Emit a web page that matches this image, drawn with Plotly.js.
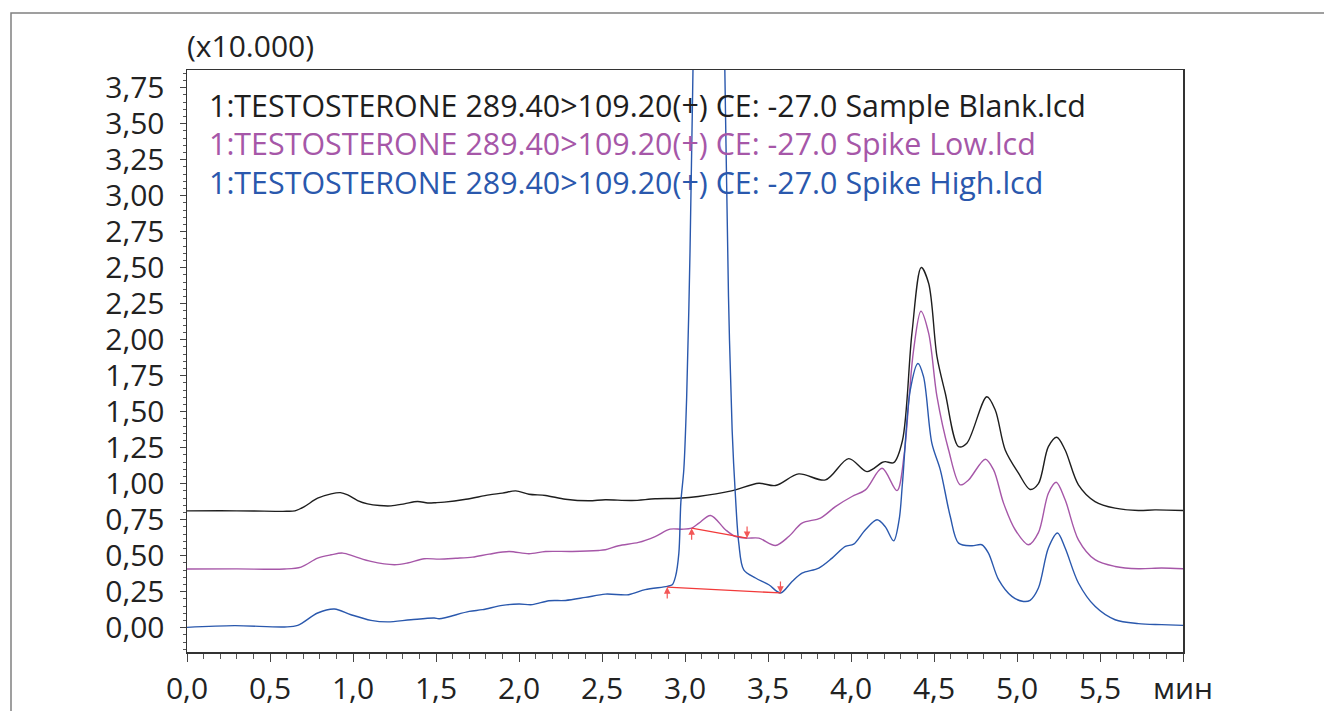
<!DOCTYPE html>
<html>
<head>
<meta charset="utf-8">
<script src="https://cdn.plot.ly/plotly-3.0.1.min.js"></script>
<style>html,body{margin:0;padding:0;background:#fff;}#chart{width:1324px;height:711px;}</style>
</head>
<body>
<div id="chart"></div>
<script>
// ---- data (minutes, intensity x10.000) ----
const blankT = [0.00,0.20,0.40,0.60,0.65,0.707,0.787,0.868,0.924,0.968,1.028,1.088,1.160,1.229,1.309,1.389,1.45,1.50,1.55,1.68,1.82,1.90,1.98,2.06,2.16,2.28,2.42,2.52,2.68,2.82,2.96,3.08,3.28,3.445,3.545,3.685,3.846,3.986,4.096,4.187,4.207,4.257,4.31,4.367,4.423,4.468,4.518,4.568,4.648,4.698,4.818,4.869,4.929,5.009,5.079,5.129,5.189,5.240,5.290,5.370,5.470,5.591,5.731,5.831,6.0];
const blankV = [0.811,0.812,0.810,0.808,0.811,0.841,0.899,0.929,0.938,0.922,0.883,0.860,0.848,0.846,0.860,0.876,0.866,0.868,0.872,0.892,0.922,0.934,0.950,0.927,0.918,0.892,0.881,0.888,0.883,0.895,0.899,0.911,0.950,1.003,0.987,1.068,1.026,1.174,1.084,1.147,1.153,1.146,1.300,2.044,2.501,2.390,1.882,1.628,1.257,1.281,1.604,1.512,1.234,1.073,0.960,1.000,1.257,1.322,1.234,0.992,0.876,0.830,0.814,0.818,0.814];

const lowT = [0.00,0.30,0.587,0.687,0.787,0.868,0.938,1.008,1.108,1.249,1.329,1.429,1.52,1.62,1.72,1.82,1.94,2.06,2.16,2.32,2.48,2.52,2.60,2.72,2.82,2.91,2.98,3.04,3.084,3.154,3.244,3.30,3.374,3.445,3.545,3.625,3.705,3.816,3.906,4.006,4.087,4.187,4.277,4.32,4.35,4.377,4.421,4.468,4.518,4.588,4.658,4.708,4.809,4.859,4.919,4.989,5.069,5.129,5.189,5.236,5.290,5.370,5.470,5.591,5.731,5.871,6.0];
const lowV = [0.407,0.408,0.407,0.421,0.483,0.506,0.518,0.495,0.460,0.437,0.449,0.479,0.476,0.482,0.490,0.511,0.529,0.513,0.529,0.529,0.536,0.541,0.569,0.592,0.633,0.684,0.684,0.691,0.726,0.779,0.680,0.635,0.622,0.622,0.571,0.633,0.726,0.761,0.841,0.911,0.957,1.107,0.952,1.200,1.600,1.928,2.198,2.044,1.604,1.234,0.992,1.026,1.170,1.096,0.865,0.680,0.576,0.660,0.934,1.010,0.888,0.610,0.472,0.425,0.409,0.414,0.409];

const highT = [0.00,0.286,0.587,0.667,0.787,0.888,0.988,1.108,1.208,1.349,1.489,1.52,1.70,1.78,1.90,2.00,2.08,2.18,2.28,2.40,2.52,2.66,2.76,2.893,2.923,2.943,2.963,2.975,2.993,3.01,3.03,3.048,3.08,3.14,3.20,3.24,3.262,3.284,3.304,3.324,3.354,3.425,3.505,3.575,3.645,3.705,3.806,3.886,3.966,4.016,4.087,4.157,4.207,4.257,4.29,4.31,4.357,4.403,4.437,4.487,4.538,4.598,4.648,4.728,4.788,4.828,4.889,4.969,5.039,5.079,5.129,5.189,5.244,5.290,5.370,5.470,5.591,5.731,5.871,6.0];
const highV = [0.002,0.014,0.005,0.016,0.102,0.130,0.090,0.051,0.040,0.055,0.067,0.062,0.113,0.125,0.155,0.164,0.160,0.187,0.189,0.210,0.233,0.229,0.264,0.287,0.298,0.356,0.518,0.870,1.100,1.600,2.600,3.870,6.500,8.500,6.500,3.870,2.300,1.373,0.911,0.587,0.402,0.345,0.298,0.241,0.321,0.379,0.414,0.483,0.564,0.580,0.680,0.749,0.700,0.603,0.750,1.003,1.650,1.835,1.743,1.281,1.096,0.772,0.587,0.569,0.576,0.518,0.333,0.217,0.182,0.190,0.275,0.553,0.657,0.553,0.310,0.148,0.055,0.028,0.021,0.016];

// integration baselines (start / end points)
const lowBaseT = [3.04, 3.374];
const lowBaseV = [0.691, 0.622];
const highBaseT = [2.893, 3.575];
const highBaseV = [0.282, 0.241];

const seriesNames = [
  "1:TESTOSTERONE 289.40>109.20(+) CE: -27.0 Sample Blank.lcd",
  "1:TESTOSTERONE 289.40>109.20(+) CE: -27.0 Spike Low.lcd",
  "1:TESTOSTERONE 289.40>109.20(+) CE: -27.0 Spike High.lcd"
];
const xTickVals = [0,0.5,1,1.5,2,2.5,3,3.5,4,4.5,5,5.5,6];
const xTickText = ["0,0","0,5","1,0","1,5","2,0","2,5","3,0","3,5","4,0","4,5","5,0","5,5","мин"];
const scaleLabel = "(x10.000)";

// ---- styling ----
const W = 1324, H = 711;
const M = {l:187, r:141, t:70, b:59};
const PW = W - M.l - M.r, PH = H - M.t - M.b;
const px = x => (x - M.l) / PW;
const py = y => (H - M.b - y) / PH;
const colBlack = '#1e1e1e', colPurple = '#a657a8', colBlue = '#2a58ad', colRed = '#f23a3a';
const FONT = 'Open Sans';

const traces = [
  {x: blankT, y: blankV, mode:'lines', line:{color:colBlack, width:1.4, shape:'spline', smoothing:0.9}},
  {x: lowT, y: lowV, mode:'lines', line:{color:colPurple, width:1.4, shape:'spline', smoothing:0.9}},
  {x: highT, y: highV, mode:'lines', line:{color:colBlue, width:1.4, shape:'spline', smoothing:0.9}},
  {x: lowBaseT, y: lowBaseV, mode:'lines', line:{color:colRed, width:1.3}},
  {x: highBaseT, y: highBaseV, mode:'lines', line:{color:colRed, width:1.3}}
];

const annotations = [
  {xref:'paper', yref:'paper', x:px(185), y:py(46), xanchor:'left', yanchor:'middle', text:scaleLabel, showarrow:false, font:{family:FONT, size:30, color:'#222'}},
  {xref:'paper', yref:'paper', x:px(207), y:py(105), xanchor:'left', yanchor:'middle', text:seriesNames[0], showarrow:false, font:{family:FONT, size:30.4, color:colBlack}},
  {xref:'paper', yref:'paper', x:px(207), y:py(143.5), xanchor:'left', yanchor:'middle', text:seriesNames[1], showarrow:false, font:{family:FONT, size:30.4, color:colPurple}},
  {xref:'paper', yref:'paper', x:px(207), y:py(182), xanchor:'left', yanchor:'middle', text:seriesNames[2], showarrow:false, font:{family:FONT, size:30.4, color:colBlue}}
];
function arrow(x, y, up) {
  return {x:x, y:y, xref:'x', yref:'y', text:'', showarrow:true, ax:0, ay: up ? 13 : -13,
          arrowhead:2, arrowsize:1.1, arrowwidth:1.2, arrowcolor:'rgba(242,58,58,0.85)', standoff:0};
}
annotations.push(arrow(lowBaseT[0], lowBaseV[0], true));
annotations.push(arrow(lowBaseT[1], lowBaseV[1], false));
annotations.push(arrow(highBaseT[0], highBaseV[0], true));
annotations.push(arrow(highBaseT[1], highBaseV[1], false));

const layout = {
  width: W, height: H,
  margin: M,
  paper_bgcolor:'#fff', plot_bgcolor:'#fff',
  showlegend:false,
  separators: ', ',
  font:{family:FONT, size:30, color:'#222'},
  xaxis:{
    range:[0, 6.0], showgrid:false, zeroline:false,
    showline:true, linecolor:'#333', linewidth:1.5, mirror:true,
    tickmode:'array', tickvals:xTickVals, ticktext:xTickText,
    ticks:'outside', ticklen:8, tickcolor:'#444', tickwidth:1,
    tickfont:{family:FONT, size:30, color:'#222'},
    ticklabelstandoff: 1,
    minor:{tickmode:'linear', tick0:0, dtick:0.1, ticks:'outside', ticklen:5, tickcolor:'#555', showgrid:false}
  },
  yaxis:{
    range:[-0.169, 3.873], showgrid:false, zeroline:false,
    showline:true, linecolor:'#333', linewidth:1.5, mirror:true,
    tickmode:'linear', tick0:0, dtick:0.25, tickformat:'.2f',
    ticks:'outside', ticklen:6, tickcolor:'#444', tickwidth:1,
    tickfont:{family:FONT, size:30, color:'#222'},
    ticklabelstandoff: 9,
    minor:{tickmode:'linear', tick0:0, dtick:0.05, ticks:'outside', ticklen:3, tickcolor:'#555', showgrid:false}
  },
  shapes:[
    {type:'rect', xref:'paper', yref:'paper', x0:px(11), x1:px(1340), y0:py(730), y1:py(13),
     line:{color:'#808080', width:1.5}, fillcolor:'rgba(0,0,0,0)', layer:'below'}
  ],
  annotations: annotations
};

Plotly.newPlot('chart', traces, layout, {staticPlot:true, displayModeBar:false});
</script>
</body>
</html>
